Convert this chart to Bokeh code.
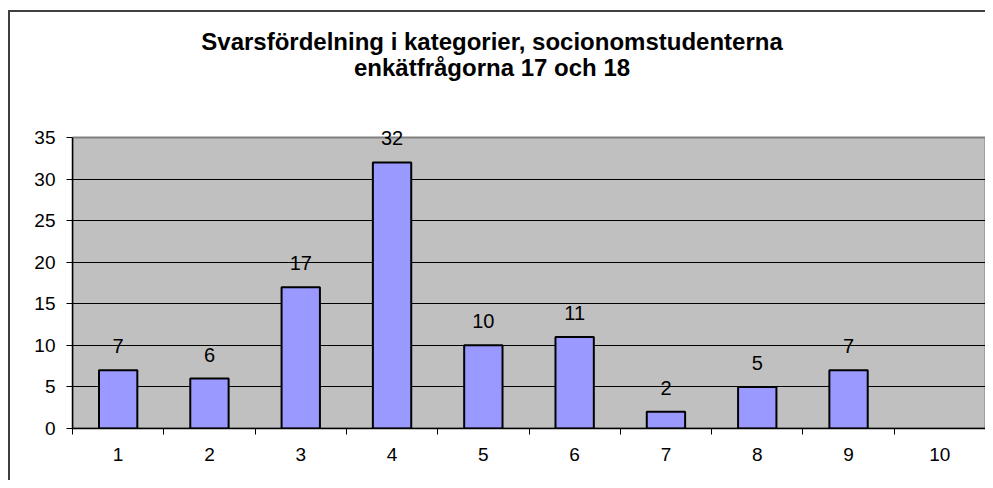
from bokeh.plotting import figure
from bokeh.models import Range1d, FixedTicker, Label, LabelSet, ColumnDataSource
from bokeh.core.properties import value
from bokeh.embed import file_html
from bokeh.resources import INLINE

categories = ["1", "2", "3", "4", "5", "6", "7", "8", "9", "10"]
bar_categories = [1, 2, 3, 4, 5, 6, 7, 8, 9]
counts = [7, 6, 17, 32, 10, 11, 2, 5, 7]
y_ticks = [0, 5, 10, 15, 20, 25, 30, 35]
y_max = 35
title_line1 = "Svarsfördelning i kategorier, socionomstudenterna"
title_line2 = "enkätfrågorna 17 och 18"

FONT = "Liberation Sans"

# frame spans from the top of the chart (y=10) down to the value axis;
# the grey plot area is drawn as a rectangle from 0 to y_max.
p = figure(width=985, height=480, output_backend="svg", toolbar_location=None,
           x_range=Range1d(0.5, len(categories) + 0.5), y_range=Range1d(0, 50.28),
           min_border_left=72, min_border_right=0, min_border_top=10, min_border_bottom=52)
p.styles = {
    "background": ("linear-gradient(#404040,#404040) 8px 10px / 2px 100% no-repeat, "
                   "linear-gradient(#404040,#404040) 8px 10px / 100% 2px no-repeat, white"),
}
p.border_fill_alpha = 0
p.background_fill_alpha = 0
p.outline_line_color = None

# plot area
area = p.quad(left=[0.5], right=[len(categories) + 0.5], bottom=[0], top=[y_max],
              fill_color="#C0C0C0", line_color="#808080", line_width=2)
area.level = "image"

src = ColumnDataSource(dict(x=bar_categories, top=counts, lbl=[str(v) for v in counts]))
p.vbar(x="x", top="top", width=0.42, bottom=0, source=src,
       fill_color="#9999FF", line_color="black", line_width=2)

labels = LabelSet(x="x", y="top", text="lbl", source=src, text_align="center",
                  text_baseline="alphabetic", y_offset=17, text_font=value(FONT),
                  text_font_size="20px", text_color="black")
p.add_layout(labels)

# axes
xt = list(range(1, len(categories) + 1))
p.xaxis.ticker = FixedTicker(ticks=xt, minor_ticks=[i + 0.5 for i in range(0, len(categories) + 1)])
p.xaxis.major_label_overrides = {i: c for i, c in zip(xt, categories)}
p.xaxis.major_tick_out = 0
p.xaxis.major_tick_in = 0
p.xaxis.minor_tick_out = 6
p.xaxis.minor_tick_in = 0
p.xaxis.major_label_standoff = 13
p.yaxis.ticker = FixedTicker(ticks=y_ticks, minor_ticks=[])
p.yaxis.bounds = (0, y_max)
p.yaxis.major_tick_out = 6
p.yaxis.major_tick_in = 0
p.yaxis.major_label_standoff = 11
for ax in (p.xaxis, p.yaxis):
    ax.axis_line_color = "black"
    ax.axis_line_width = 1.5
    ax.major_tick_line_color = "black"
    ax.minor_tick_line_color = "black"
    ax.major_label_text_font = FONT
    ax.major_label_text_font_size = "19px"
    ax.major_label_text_color = "black"

p.xgrid.visible = False
p.ygrid.ticker = FixedTicker(ticks=[t for t in y_ticks if 0 < t < y_max])
p.ygrid.grid_line_color = "black"
p.ygrid.grid_line_width = 1

p.add_layout(Label(x=5.095, y=46.55, text=title_line1, text_align="center",
                   text_baseline="alphabetic", text_font=FONT, text_font_size="24px",
                   text_font_style="bold", text_color="black"))
p.add_layout(Label(x=5.095, y=43.42, text=title_line2, text_align="center",
                   text_baseline="alphabetic", text_font=FONT, text_font_size="24px",
                   text_font_style="bold", text_color="black"))

open("out.html", "w").write(file_html(p, INLINE))
